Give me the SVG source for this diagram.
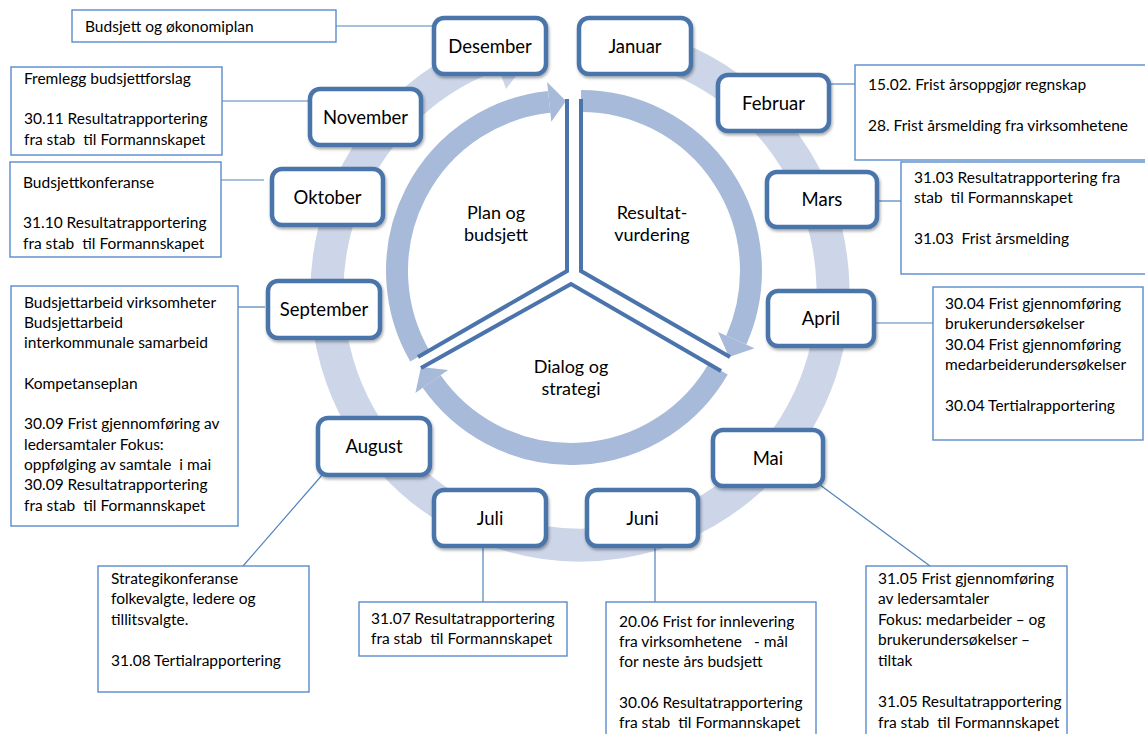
<svg xmlns="http://www.w3.org/2000/svg" width="1145" height="734" viewBox="0 0 1145 734">
<style>
text{font-family:Lato,"Liberation Sans",sans-serif;fill:#000;white-space:pre}
.m{font-size:18.5px;text-anchor:middle}
.c{font-size:18px;text-anchor:middle}
.t{font-size:15.5px}
.mb{fill:#fff;stroke:#4A74AB;stroke-width:4.5;filter:url(#sh)}
.tb{fill:#fff;stroke:#5B8BCB;stroke-width:1.4}
.cn{stroke:#4F81BD;stroke-width:1.2;fill:none}
.band{fill:none;stroke:#A8BADA;stroke-width:22}
.head{fill:#A8BADA}
.edge{fill:none;stroke:#4A74AB;stroke-width:4;stroke-linejoin:miter}
</style>
<defs>
<filter id="sh" x="-20%" y="-20%" width="140%" height="150%">
<feDropShadow dx="1" dy="2" stdDeviation="1.6" flood-color="#000" flood-opacity="0.35"/>
</filter>
</defs>
<rect width="1145" height="734" fill="#fff"/>

<g id="outer-ring">
<path d="M588.8,39.2 A253,253 0 1 1 493.5,54.3" fill="none" stroke="#CDD6E8" stroke-width="33"/>
<polygon points="506.1,89 480.8,19.5 543,40" fill="#CDD6E8"/>
</g>

<g id="cycle-plan">
<path class="band" d="M419.8,356 A170,170 0 0 1 549.2,101.9"/>
<polygon class="head" points="551.3,121.8 547.1,82 566,101"/>
<path class="edge" d="M567,99 L567,271 L418,357"/>
<text class="c" x="496" y="219">Plan og</text>
<text class="c" x="496" y="241">budsjett</text>
</g>
<g id="cycle-resultat">
<path class="band" d="M581,101 A170,170 0 0 1 736.3,340.1"/>
<polygon class="head" points="718,332 754.6,348.3 729,357"/>
<path class="edge" d="M581,99 L581,271 L730,357"/>
<text class="c" x="652" y="219">Resultat-</text>
<text class="c" x="652" y="241">vurdering</text>
</g>
<g id="cycle-dialog">
<path class="band" d="M718.2,369 A170,170 0 0 1 431.7,381.5"/>
<polygon class="head" points="448.1,370 415.4,393 421,367"/>
<path class="edge" d="M421,368 L571,284 L721,371"/>
<text class="c" x="571" y="373">Dialog og</text>
<text class="c" x="571" y="395">strategi</text>
</g>

<g id="connectors">
<line class="cn" x1="336" y1="26" x2="434" y2="26"/>
<line class="cn" x1="222" y1="101" x2="310" y2="101"/>
<line class="cn" x1="221" y1="180" x2="264" y2="180"/>
<line class="cn" x1="238" y1="307" x2="265" y2="307"/>
<line class="cn" x1="323" y1="474" x2="243" y2="566"/>
<line class="cn" x1="483" y1="546" x2="483" y2="602"/>
<line class="cn" x1="655" y1="546" x2="655" y2="602"/>
<line class="cn" x1="816" y1="482" x2="930" y2="566"/>
<line class="cn" x1="873" y1="323" x2="933" y2="323"/>
<line class="cn" x1="875" y1="201" x2="901" y2="201"/>
<line class="cn" x1="828" y1="84" x2="855" y2="84"/>
</g>

<g id="m-desember"><rect class="mb" x="434" y="18" width="112" height="56" rx="10"/><text class="m" x="490" y="52.5">Desember</text></g>
<g id="m-januar"><rect class="mb" x="579" y="18" width="112" height="56" rx="10"/><text class="m" x="635" y="52.5">Januar</text></g>
<g id="m-februar"><rect class="mb" x="718" y="75" width="111" height="56" rx="10"/><text class="m" x="773.5" y="109.5">Februar</text></g>
<g id="m-mars"><rect class="mb" x="767" y="172" width="110" height="55" rx="10"/><text class="m" x="822" y="206">Mars</text></g>
<g id="m-april"><rect class="mb" x="768" y="291" width="106" height="55" rx="10"/><text class="m" x="821" y="325">April</text></g>
<g id="m-mai"><rect class="mb" x="713" y="430" width="110" height="56" rx="10"/><text class="m" x="768" y="464.5">Mai</text></g>
<g id="m-juni"><rect class="mb" x="587" y="490" width="111" height="56" rx="10"/><text class="m" x="642.5" y="524.5">Juni</text></g>
<g id="m-juli"><rect class="mb" x="434" y="490" width="112" height="56" rx="10"/><text class="m" x="490" y="524.5">Juli</text></g>
<g id="m-august"><rect class="mb" x="318" y="418" width="112" height="57" rx="10"/><text class="m" x="374" y="453">August</text></g>
<g id="m-september"><rect class="mb" x="268" y="281" width="112" height="57" rx="10"/><text class="m" x="324" y="316">September</text></g>
<g id="m-oktober"><rect class="mb" x="272" y="169" width="111" height="56" rx="10"/><text class="m" x="327.5" y="203.5">Oktober</text></g>
<g id="m-november"><rect class="mb" x="310" y="89" width="111" height="56" rx="10"/><text class="m" x="365.5" y="123.5">November</text></g>

<g id="n-desember"><rect class="tb" x="72" y="10" width="264" height="32"/>
<text class="t" x="85" y="31.5">Budsjett og økonomiplan</text></g>
<g id="n-november"><rect class="tb" x="11" y="67" width="211" height="88"/>
<text class="t" x="24" y="83.5">Fremlegg budsjettforslag</text>
<text class="t" x="24" y="124">30.11 Resultatrapportering</text>
<text class="t" x="24" y="144.5">fra stab  til Formannskapet</text></g>
<g id="n-oktober"><rect class="tb" x="10" y="162" width="211" height="95"/>
<text class="t" x="23" y="187.5">Budsjettkonferanse</text>
<text class="t" x="23" y="228">31.10 Resultatrapportering</text>
<text class="t" x="23" y="248.5">fra stab  til Formannskapet</text></g>
<g id="n-september"><rect class="tb" x="11" y="286" width="227" height="240"/>
<text class="t" x="24" y="307.5">Budsjettarbeid virksomheter</text>
<text class="t" x="24" y="327.8">Budsjettarbeid</text>
<text class="t" x="24" y="348.1">interkommunale samarbeid</text>
<text class="t" x="24" y="388.7">Kompetanseplan</text>
<text class="t" x="24" y="429.3">30.09 Frist gjennomføring av</text>
<text class="t" x="24" y="449.6">ledersamtaler Fokus:</text>
<text class="t" x="24" y="469.9">oppfølging av samtale  i mai</text>
<text class="t" x="24" y="490.2">30.09 Resultatrapportering</text>
<text class="t" x="24" y="510.5">fra stab  til Formannskapet</text></g>
<g id="n-august"><rect class="tb" x="98" y="566" width="211" height="126"/>
<text class="t" x="111" y="583.5">Strategikonferanse</text>
<text class="t" x="111" y="604">folkevalgte, ledere og</text>
<text class="t" x="111" y="624.5">tillitsvalgte.</text>
<text class="t" x="111" y="665.5">31.08 Tertialrapportering</text></g>
<g id="n-juli"><rect class="tb" x="359" y="602" width="208" height="54"/>
<text class="t" x="371" y="623.5">31.07 Resultatrapportering</text>
<text class="t" x="371" y="644">fra stab  til Formannskapet</text></g>
<g id="n-juni"><rect class="tb" x="606" y="602" width="210" height="140"/>
<text class="t" x="619" y="626.5">20.06 Frist for innlevering</text>
<text class="t" x="619" y="646.8">fra virksomhetene   - mål</text>
<text class="t" x="619" y="667.1">for neste års budsjett</text>
<text class="t" x="619" y="707.7">30.06 Resultatrapportering</text>
<text class="t" x="619" y="728">fra stab  til Formannskapet</text></g>
<g id="n-mai"><rect class="tb" x="866" y="566" width="201" height="176"/>
<text class="t" x="878" y="583.5">31.05 Frist gjennomføring</text>
<text class="t" x="878" y="604.1">av ledersamtaler</text>
<text class="t" x="878" y="624.7">Fokus: medarbeider – og</text>
<text class="t" x="878" y="645.3">brukerundersøkelser –</text>
<text class="t" x="878" y="665.9">tiltak</text>
<text class="t" x="878" y="707.1">31.05 Resultatrapportering</text>
<text class="t" x="878" y="727.7">fra stab  til Formannskapet</text></g>
<g id="n-april"><rect class="tb" x="933" y="287" width="210" height="153"/>
<text class="t" x="945" y="308.5">30.04 Frist gjennomføring</text>
<text class="t" x="945" y="329">brukerundersøkelser</text>
<text class="t" x="945" y="349.5">30.04 Frist gjennomføring</text>
<text class="t" x="945" y="370">medarbeiderundersøkelser</text>
<text class="t" x="945" y="411">30.04 Tertialrapportering</text></g>
<g id="n-mars"><rect class="tb" x="901" y="162" width="246" height="112"/>
<text class="t" x="914" y="182.5">31.03 Resultatrapportering fra</text>
<text class="t" x="914" y="203">stab  til Formannskapet</text>
<text class="t" x="914" y="244">31.03  Frist årsmelding</text></g>
<g id="n-februar"><rect class="tb" x="855" y="65" width="292" height="95"/>
<text class="t" x="868" y="89.5">15.02. Frist årsoppgjør regnskap</text>
<text class="t" x="868" y="130.5">28. Frist årsmelding fra virksomhetene</text></g>
</svg>
